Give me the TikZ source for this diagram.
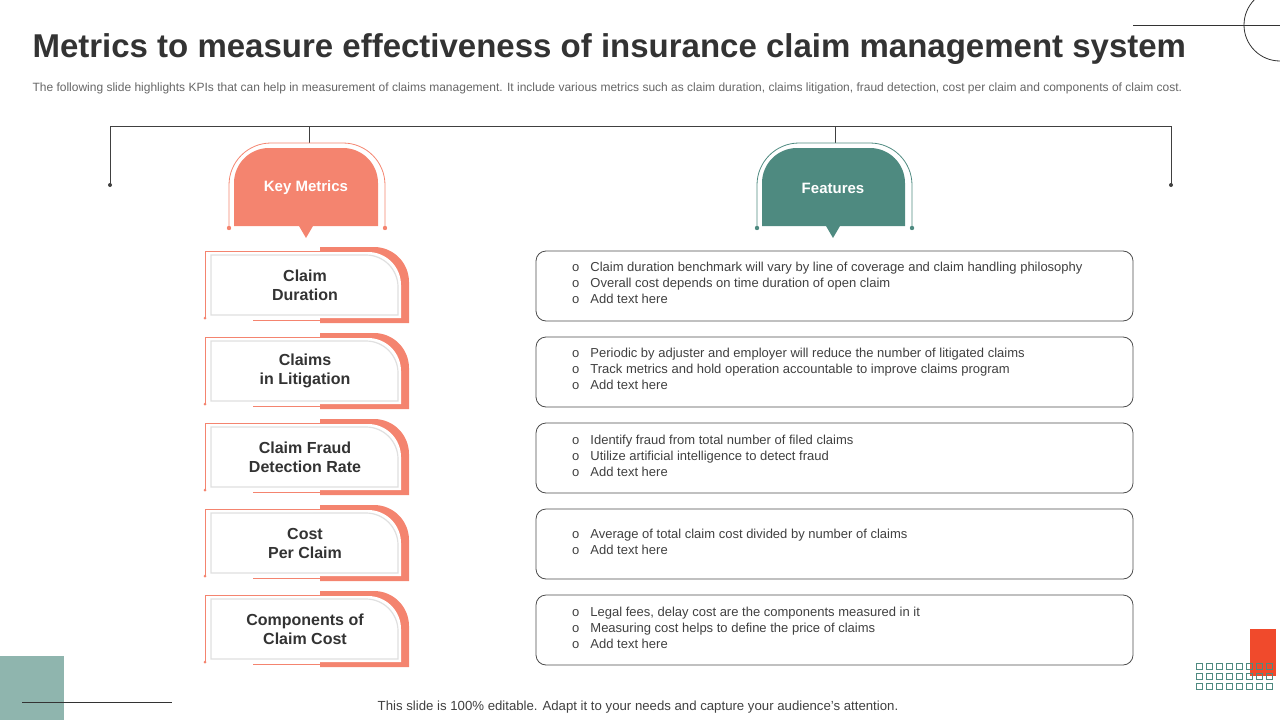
\documentclass[tikz,border=0pt]{standalone}
\usepackage{fontspec}
\setmainfont{Liberation Sans}
\definecolor{salmon}{HTML}{F4846F}
\definecolor{teal}{HTML}{4E8A80}
\definecolor{lteal}{HTML}{8FB5AE}
\definecolor{txt}{HTML}{333333}
\definecolor{redacc}{HTML}{F04A2C}
\tikzset{
 feat/.style={draw=black!70,rounded corners=10pt,line width=0.8pt},
 ftext/.style={anchor=north west,font=\fontsize{13}{16}\selectfont,text=black!75,align=left,inner sep=0},
 mtext/.style={font=\bfseries\fontsize{16}{19}\selectfont,text=txt,align=center},
 conn/.style={draw=black!75,line width=0.8pt},
}
\newcommand{\metricbox}[3]{%
 \fill[salmon] (320,#1-4) -- (374,#1-4) arc[start angle=270,end angle=360,radius=35] -- (409,#1+72) -- (320,#1+72) -- cycle;
 \fill[white] (313,#1+1) -- (368,#1+1) arc[start angle=270,end angle=360,radius=33] -- (401,#1+67) -- (313,#1+67) -- cycle;
 \draw[black!12,line width=1.2pt,fill=white] (211,#1+4) -- (366,#1+4) arc[start angle=270,end angle=360,radius=32] -- (398,#1+64) -- (211,#1+64) -- cycle;
 \draw[salmon,line width=0.8pt] (320,#1) -- (205,#1) -- (205,#1+67);
 \fill[salmon] (205,#1+67) circle (1.5);
 \draw[salmon,line width=0.8pt] (253,#1+69) -- (320,#1+69);
 \node[mtext] (#3) at (305,#1+34) {#2};
}
\begin{document}
\begin{tikzpicture}[x=1pt,y=-1pt]
\useasboundingbox (0,0) rectangle (1280,720);
% decorations
\draw[black!80,line width=0.8pt] (1133,25) -- (1280,25);
\draw[black!80,line width=0.8pt] (1280,61) arc[start angle=90,end angle=270,radius=36];
\fill[lteal] (0,656) rectangle (64,720);
\draw[black!80,line width=0.8pt] (22,702) -- (172,702);
\fill[redacc] (1250,629) rectangle (1276,676);
\foreach \i in {0,...,7}{\foreach \j in {0,1,2}{
 \draw[teal,line width=0.7pt] (1196+\i*10,663+\j*10) rectangle ++(6,6);}}
% title
\node[anchor=west,font=\bfseries\fontsize{33}{38}\selectfont,text=txt] (title) at (29,49) {Metrics to measure effectiveness of insurance claim management system};
\node[anchor=west,font=\fontsize{12}{14}\selectfont,text=black!60] (sub) at (29,88) {The following slide highlights KPIs that can help in measurement of claims management. It include various metrics such as claim duration, claims litigation, fraud detection, cost per claim and components of claim cost.};
\node[font=\fontsize{13.2}{15}\selectfont,text=black!75] (foot) at (638,707) {This slide is 100\% editable. Adapt it to your needs and capture your audience's attention.};
% top connector
\coordinate (L) at (110,185); \coordinate (R) at (1171,185);
\draw[conn] (L) -- (110,126) -- (1171,126) -- (R);
\fill[black!75] (L) circle (2) (R) circle (2);
\draw[conn] (309,126) -- (309,143);
\draw[conn] (835,126) -- (835,143);
% Key metrics header
\draw[salmon,line width=0.8pt] (229,228) -- (229,185) arc[start angle=180,end angle=270,radius=42] -- (343,143) arc[start angle=270,end angle=360,radius=42] -- (385,228);
\fill[salmon] (229,228) circle (2.2) (385,228) circle (2.2);
\fill[salmon] (234,226) -- (234,183) arc[start angle=180,end angle=270,radius=35] -- (343,148) arc[start angle=270,end angle=360,radius=35] -- (378,226) -- (313,226) -- (306,238) -- (299,226) -- cycle;
\node[font=\bfseries\fontsize{15}{18}\selectfont,text=white] (km) at (306,188) {Key Metrics};
% Features header
\draw[teal,line width=0.8pt] (757,228) -- (757,185) arc[start angle=180,end angle=270,radius=42] -- (870,143) arc[start angle=270,end angle=360,radius=42] -- (912,228);
\fill[teal] (757,228) circle (2.2) (912,228) circle (2.2);
\fill[teal] (762,226) -- (762,183) arc[start angle=180,end angle=270,radius=35] -- (870,148) arc[start angle=270,end angle=360,radius=35] -- (905,226) -- (840,226) -- (833,238) -- (826,226) -- cycle;
\node[font=\bfseries\fontsize{15}{18}\selectfont,text=white] (ft) at (833,188) {Features};
% metrics
\metricbox{251}{Claim\\Duration}{m1}
\metricbox{337}{Claims\\in Litigation}{m2}
\metricbox{423}{Claim Fraud\\Detection Rate}{m3}
\metricbox{509}{Cost\\Per Claim}{m4}
\metricbox{595}{Components of\\Claim Cost}{m5}
% features
\foreach \y in {251,337,423,509,595}{\draw[feat] (536,\y) rectangle (1133,\y+70);}
\node[ftext] (f1) at (572,262) {o\hspace{11pt}Claim duration benchmark will vary by line of coverage  and claim handling philosophy\\o\hspace{11pt}Overall  cost depends on time duration of open claim\\o\hspace{11pt}Add text here};
\node[ftext] (f2) at (572,348) {o\hspace{11pt}Periodic by adjuster and employer will reduce  the number of litigated claims\\o\hspace{11pt}Track metrics and hold operation accountable to improve  claims program\\o\hspace{11pt}Add text here};
\node[ftext] (f3) at (572,435) {o\hspace{11pt}Identify fraud from total number of filed claims\\o\hspace{11pt}Utilize artificial intelligence to detect fraud\\o\hspace{11pt}Add text here};
\node[ftext] (f4) at (572,529) {o\hspace{11pt}Average  of total claim cost divided  by number of claims\\o\hspace{11pt}Add text here};
\node[ftext] (f5) at (572,607) {o\hspace{11pt}Legal fees, delay cost are the components measured  in it\\o\hspace{11pt}Measuring cost helps to define the price of claims\\o\hspace{11pt}Add text here};
\end{tikzpicture}
\end{document}
